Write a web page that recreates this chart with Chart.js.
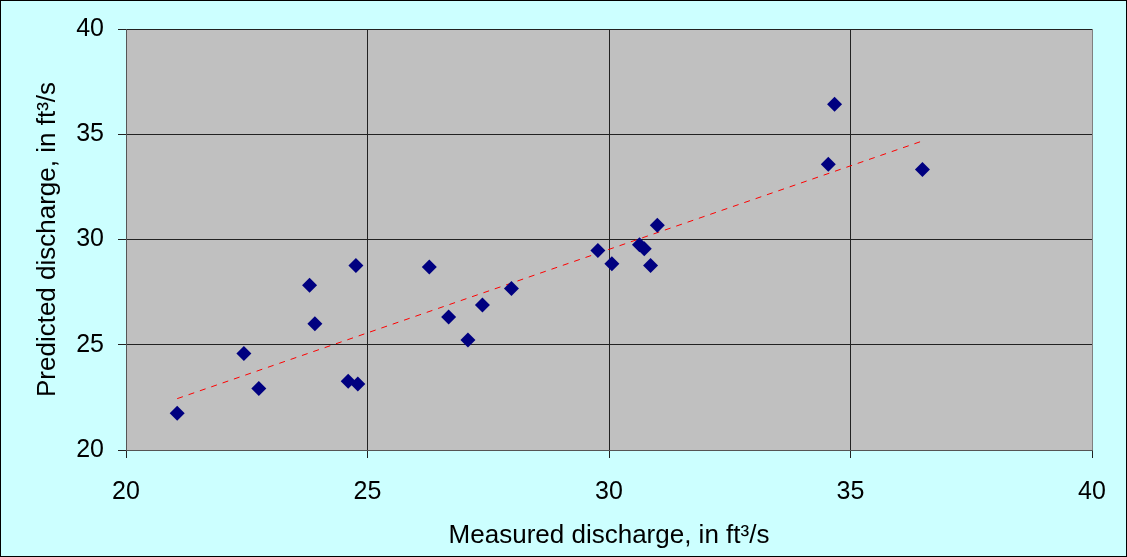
<!DOCTYPE html>
<html>
<head>
<meta charset="utf-8">
<script src="https://cdn.jsdelivr.net/npm/chart.js@4"></script>
<style>
  body { margin: 0; background: #ccffff; }
  canvas { display: block; }
</style>
</head>
<body>
<canvas id="chart" width="1127" height="557"></canvas>
<script>
// observed vs predicted discharge, ft3/s
const measured = [21.06, 22.44, 22.75, 23.80, 23.91, 24.76, 24.60, 24.80, 26.28, 26.68, 27.08,
                  27.38, 27.98, 29.77, 30.06, 30.63, 30.73, 30.86, 31.00, 34.67, 34.54, 36.49];
const predicted = [21.75, 24.59, 22.92, 27.83, 26.00, 28.77, 23.27, 23.14, 28.69, 26.32, 25.22,
                   26.89, 27.67, 29.48, 28.85, 29.75, 29.56, 28.76, 30.68, 36.42, 33.57, 33.33];
const trendX = [21.06, 36.49];
const trendY = [22.44, 34.68];
const ticks = [20, 25, 30, 35, 40];

const tickFont = { family: 'Liberation Sans, Arial, sans-serif', size: 25 };
const titleFont = { family: 'Liberation Sans, Arial, sans-serif', size: 26 };

const backgroundPlugin = {
    id: 'bg',
    beforeDraw(chart) {
        const ctx = chart.ctx;
        const a = chart.chartArea;
        ctx.save();
        ctx.fillStyle = '#ccffff';
        ctx.fillRect(0, 0, chart.width, chart.height);
        ctx.fillStyle = '#c0c0c0';
        ctx.fillRect(a.left, a.top, a.right - a.left, a.bottom - a.top);
        ctx.restore();
    },
    afterDraw(chart) {
        const ctx = chart.ctx;
        const a = chart.chartArea;
        ctx.save();
        ctx.strokeStyle = '#808080';
        ctx.lineWidth = 1;
        ctx.beginPath();
        ctx.moveTo(Math.round(a.right) + 0.5, a.top);
        ctx.lineTo(Math.round(a.right) + 0.5, a.bottom);
        ctx.stroke();
        ctx.strokeStyle = '#000';
        ctx.strokeRect(0.5, 0.5, chart.width - 1, chart.height - 1);
        ctx.restore();
    }
};

new Chart(document.getElementById('chart'), {
    type: 'scatter',
    data: {
        datasets: [{
            label: 'Observations',
            data: measured.map((x, i) => ({ x: x, y: predicted[i] })),
            pointStyle: 'rectRot',
            pointRadius: 7.5,
            pointHoverRadius: 7.5,
            backgroundColor: '#000080',
            borderColor: '#000080',
            borderWidth: 0
        }, {
            type: 'line',
            label: 'Trend',
            data: trendX.map((x, i) => ({ x: x, y: trendY[i] })),
            borderColor: '#ff0000',
            borderWidth: 1,
            borderDash: [6, 6],
            pointRadius: 0,
            fill: false
        }]
    },
    options: {
        responsive: false,
        animation: false,
        layout: { padding: { top: 26, right: 35, left: 0, bottom: 0 } },
        plugins: { legend: { display: false }, tooltip: { enabled: false } },
        scales: {
            x: {
                type: 'linear',
                min: 20, max: 40,
                afterBuildTicks: s => { s.ticks = ticks.map(v => ({ value: v })); },
                afterFit: s => { s.height = 107; },
                grid: { color: '#222', lineWidth: 1, tickLength: 8, drawTicks: true },
                border: { color: '#555' },
                ticks: { color: '#000', font: tickFont, padding: 19, maxRotation: 0 },
                title: { display: true, text: 'Measured discharge, in ft³/s', color: '#000', font: titleFont, padding: { bottom: 6 } }
            },
            y: {
                type: 'linear',
                min: 20, max: 40,
                afterBuildTicks: s => { s.ticks = ticks.map(v => ({ value: v })); },
                afterFit: s => { s.width = 126; },
                grid: { color: '#222', lineWidth: 1, tickLength: 8, drawTicks: true },
                border: { color: '#555' },
                ticks: { color: '#000', font: tickFont, padding: 14 },
                title: { display: true, text: 'Predicted discharge, in ft³/s', color: '#000', font: titleFont, padding: { top: 32 } }
            }
        }
    },
    plugins: [backgroundPlugin]
});
</script>
</body>
</html>
